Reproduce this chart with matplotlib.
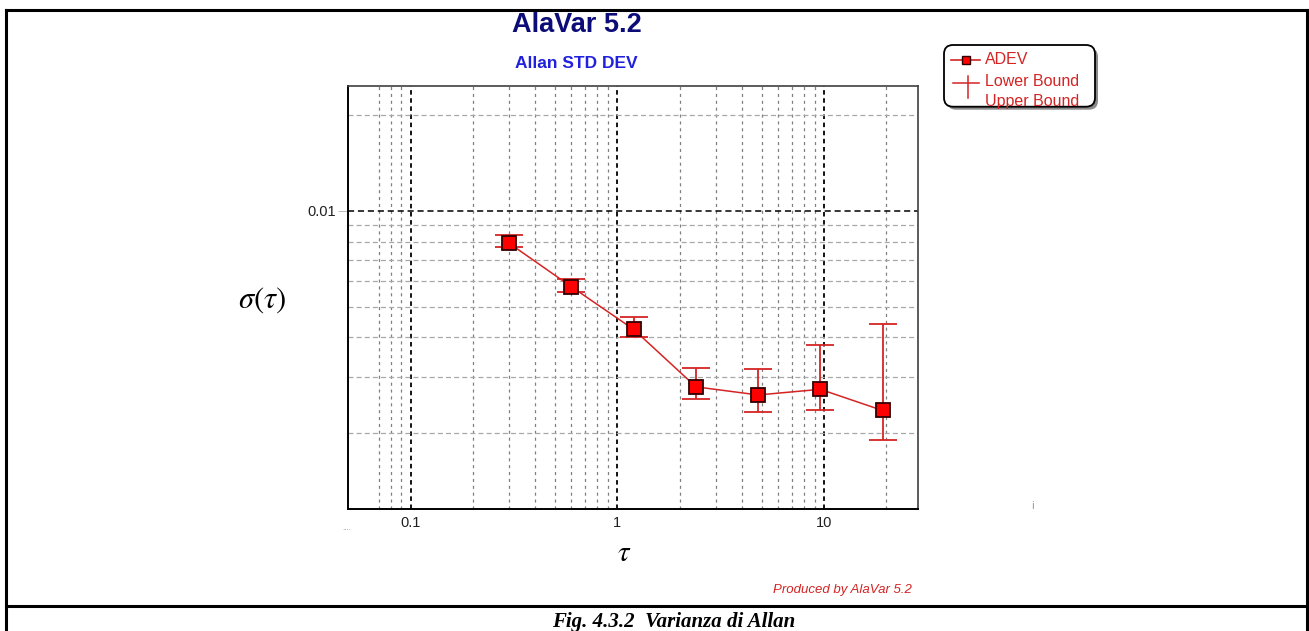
import numpy as np
import matplotlib
matplotlib.use("Agg")
import matplotlib.pyplot as plt
from matplotlib.patches import FancyBboxPatch
from matplotlib.lines import Line2D
from matplotlib.transforms import IdentityTransform
from matplotlib.ticker import FixedLocator, FixedFormatter, NullFormatter

# data
tau = [0.3, 0.6, 1.2, 2.4, 4.8, 9.6, 19.2]
adev = [0.00790, 0.00577, 0.00424, 0.00280, 0.00264, 0.00275, 0.00236]
lower_bound = [0.00767, 0.00557, 0.00400, 0.00256, 0.00234, 0.00236, 0.00191]
upper_bound = [0.00839, 0.00610, 0.00463, 0.00321, 0.00319, 0.00379, 0.00441]

x_major = [0.1, 1, 10]
x_major_labels = ["0.1", "1", "10"]
x_minor = [0.07, 0.08, 0.09, 0.2, 0.3, 0.4, 0.5, 0.6, 0.7, 0.8, 0.9,
           2, 3, 4, 5, 6, 7, 8, 9, 20]
y_major = [0.01]
y_major_labels = ["0.01"]
y_minor = [0.002, 0.003, 0.004, 0.005, 0.006, 0.007, 0.008, 0.009, 0.02]

W, H = 1309, 631
RED = "#d42424"
SANS = "Liberation Sans"
plt.rcParams["mathtext.fontset"] = "stix"


def fx(x):
    return x / W


def fy(y):
    return 1 - y / H


fig = plt.figure(figsize=(W / 100, H / 100), dpi=100)
fig.patch.set_facecolor("white")

# outer frame of the figure box
frame_kw = dict(color="black", lw=2.2, transform=fig.transFigure)
fig.add_artist(Line2D([fx(6), 1], [fy(10), fy(10)], **frame_kw))
fig.add_artist(Line2D([fx(6), fx(6)], [fy(10), 0], **frame_kw))
fig.add_artist(Line2D([fx(1306.5), fx(1306.5)], [fy(10), 0], **frame_kw))
fig.add_artist(Line2D([fx(6), 1], [fy(605.7), fy(605.7)], **frame_kw))

ax = fig.add_axes([fx(348.3), fy(508.7), (918.3 - 348.3) / W, (508.7 - 85.7) / H])
ax.set_xscale("log")
ax.set_yscale("log")
ax.set_xlim(0.0499, 28.6)
ax.set_ylim(0.00116, 0.0247)

ax.xaxis.set_major_locator(FixedLocator(x_major))
ax.xaxis.set_major_formatter(FixedFormatter(x_major_labels))
ax.xaxis.set_minor_locator(FixedLocator(x_minor))
ax.xaxis.set_minor_formatter(NullFormatter())
ax.yaxis.set_major_locator(FixedLocator(y_major))
ax.yaxis.set_major_formatter(FixedFormatter(y_major_labels))
ax.yaxis.set_minor_locator(FixedLocator(y_minor))
ax.yaxis.set_minor_formatter(NullFormatter())

ax.xaxis.grid(True, which="major", color="black", linestyle=(0, (2.5, 2)), lw=1.3)
ax.xaxis.grid(True, which="minor", color="#808080", linestyle=(0, (2.5, 3)), lw=0.9)
ax.yaxis.grid(True, which="major", color="black", linestyle=(0, (4, 2.5)), lw=1.1)
ax.yaxis.grid(True, which="minor", color="#a8a8a8", linestyle=(0, (4, 2.5)), lw=0.9)
ax.set_axisbelow(True)

ax.tick_params(axis="x", which="both", length=0, pad=5, labelsize=10.5, labelcolor="#202020")
ax.tick_params(axis="y", which="major", length=7, width=0.6, color="#b0b0b0",
               pad=2, labelsize=10.5, labelcolor="#202020")
ax.tick_params(axis="y", which="minor", length=0)
for lab in ax.get_xticklabels() + ax.get_yticklabels():
    lab.set_family(SANS)

for side in ["left", "bottom"]:
    ax.spines[side].set_color("black")
    ax.spines[side].set_linewidth(1.4)
for side in ["top", "right"]:
    ax.spines[side].set_color("#404040")
    ax.spines[side].set_linewidth(1.2)

yerr = [np.array(adev) - np.array(lower_bound), np.array(upper_bound) - np.array(adev)]
ax.errorbar(tau, adev, yerr=yerr, fmt="none", ecolor=RED, elinewidth=1.3,
            capsize=10, capthick=1.3, zorder=3)
ax.plot(tau, adev, color=RED, lw=1.1, marker="s", markersize=9.5,
        markerfacecolor="#ff0000", markeredgecolor="#300000", markeredgewidth=1.3,
        zorder=4)

# titles and labels
fig.text(fx(576.7), fy(25), "AlaVar 5.2", ha="center", va="center",
         fontsize=19.5, fontweight="bold", color="#0c0c78", family=SANS)
fig.text(fx(576.7), fy(63), "Allan STD DEV", ha="center", va="center",
         fontsize=12.5, fontweight="bold", color="#2020dd", family=SANS)
fig.text(fx(262), fy(300), r"$\sigma(\tau)$", ha="center", va="center", fontsize=22)
fig.text(fx(624), fy(553), r"$\tau$", ha="center", va="center", fontsize=21)
fig.text(fx(912), fy(590), "Produced by AlaVar 5.2", ha="right", va="center",
         fontsize=9.5, style="italic", color=RED, family=SANS)
fig.text(fx(674), fy(612), "Fig. 4.3.2  Varianza di Allan", ha="center", va="top",
         fontsize=15, fontweight="bold", style="italic", family="Liberation Serif")
fig.text(fx(347), fy(528), "....", ha="center", va="center", fontsize=5, color="#909090")
fig.text(fx(1033), fy(506), "i", ha="center", va="center", fontsize=7, color="#909090")

# legend drawn in pixel units
ident = IdentityTransform()
shadow = FancyBboxPatch((947, H - 109.7), 151, 61.7, boxstyle="round,pad=0,rounding_size=9",
                        transform=ident, facecolor="#8a8a8a", edgecolor="none")
box = FancyBboxPatch((944, H - 106.7), 151, 61.7, boxstyle="round,pad=0,rounding_size=9",
                     transform=ident, facecolor="white", edgecolor="black", lw=1.3)
fig.add_artist(shadow)
fig.add_artist(box)
fig.add_artist(Line2D([951, 980], [H - 60, H - 60], transform=ident, color=RED, lw=1.2))
fig.add_artist(Line2D([966], [H - 60], transform=ident, color=RED, marker="s",
                      markersize=6, markerfacecolor="#ff0000", markeredgecolor="#300000",
                      markeredgewidth=1.0, linestyle="none"))
fig.add_artist(Line2D([953, 979], [H - 83, H - 83], transform=ident, color=RED, lw=1.1))
fig.add_artist(Line2D([968, 968], [H - 76, H - 98], transform=ident, color=RED, lw=1.1))
legend_labels = ["ADEV", "Lower Bound", "Upper Bound"]
legend_y = [60, 81.7, 101.7]
for lab, yy in zip(legend_labels, legend_y):
    fig.text(fx(985), fy(yy), lab, ha="left", va="center", fontsize=11.5,
             color=RED, family=SANS)

fig.savefig("out.png", dpi=100, facecolor="white")
